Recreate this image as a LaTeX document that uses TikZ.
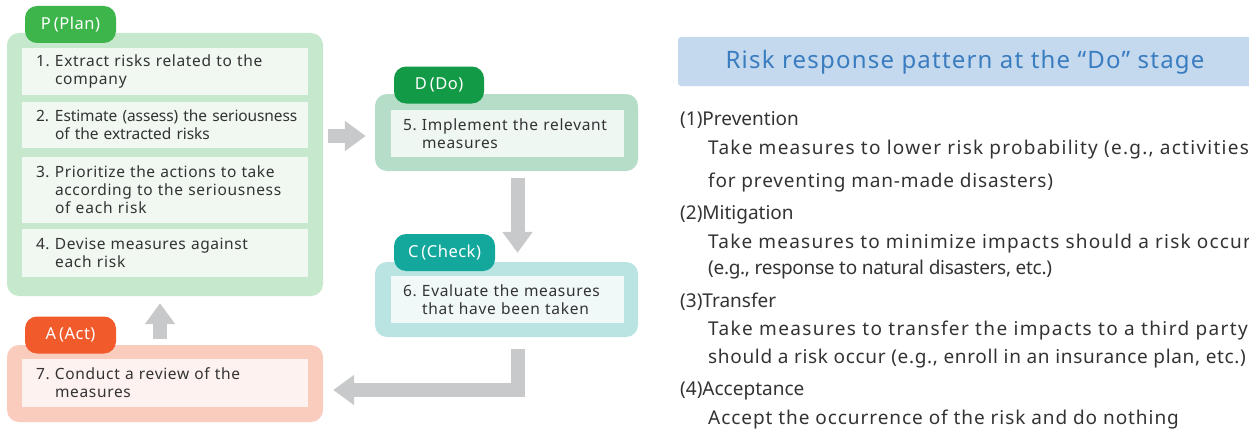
\documentclass[tikz,border=0pt]{standalone}
\usepackage{fontspec}
\setmainfont{Noto Sans}
\usetikzlibrary{arrows.meta,calc}

\definecolor{txt}{HTML}{333333}
\definecolor{arrowgray}{HTML}{C8C9CA}
\definecolor{planTab}{HTML}{3DB54A}
\definecolor{planOut}{HTML}{C6E8CC}
\definecolor{planIn}{HTML}{F0F8F1}
\definecolor{doTab}{HTML}{129A46}
\definecolor{doOut}{HTML}{B6DDC8}
\definecolor{doIn}{HTML}{EFF7F3}
\definecolor{chkTab}{HTML}{14A89D}
\definecolor{chkOut}{HTML}{B9E4E1}
\definecolor{chkIn}{HTML}{F0F8F8}
\definecolor{actTab}{HTML}{F15A2B}
\definecolor{actOut}{HTML}{F9CCBE}
\definecolor{actIn}{HTML}{FDF2F0}
\definecolor{titleFill}{HTML}{C5D9EE}
\definecolor{titleText}{HTML}{3A7CC0}

% letter-spaced run of text
\newcommand{\spaced}[2]{{\addfontfeatures{LetterSpace=#1}#2}}
% first line of a numbered step, and its indented continuation lines
\newcommand{\firstln}[3][4.3]{\mbox{\spaced{#1}{\makebox[19pt][l]{#2}#3}}}
\newcommand{\contln}[2][4.3]{\mbox{\hspace*{19pt}\spaced{#1}{#2}}}
% tab caption: letter, gap, bracketed word
\newcommand{\tabcap}[2]{\spaced{3}{#1\kern3pt(#2)}}

\begin{document}
\begin{tikzpicture}[x=1pt,y=-1pt,
  outerbox/.style={rounded corners=12pt, inner sep=0pt, minimum width=#1},
  tabbox/.style={rounded corners=12pt, inner sep=0pt, text=white,
    font=\fontsize{16.5}{18}\selectfont, minimum height=37pt},
  inbox/.style={inner sep=0pt, minimum width=#1, text=txt, align=left,
    font=\fontsize{15.5}{18}\selectfont},
  blk/.style={draw=arrowgray, line width=14pt, line join=miter,
    -{Triangle[width=29pt,length=21pt]}},
  headtext/.style={anchor=base west, inner sep=0pt, text=txt,
    font=\fontsize{19}{22}\selectfont},
  bodytext/.style={anchor=base west, inner sep=0pt, text=txt,
    font=\fontsize{19}{22}\selectfont}
]
\useasboundingbox (0,0) rectangle (1249,428);
\clip (0,0) rectangle (1249,428);
\fill[white] (0,0) rectangle (1249,428);

% ---------- P (Plan) ----------
\node[outerbox=316pt, fill=planOut, minimum height=263pt] (P) at (165,164.5) {};
\node[tabbox, fill=planTab, minimum width=91pt] (Ptab) at (70.5,24.5) {\tabcap{P}{Plan}};
\node[inbox=286pt, fill=planIn, minimum height=47pt, text width=258pt] (p1) at (165,71.5)
  {\firstln{1.}{Extract risks related to the}\\\contln[5]{company}};
\node[inbox=286pt, fill=planIn, minimum height=46pt, text width=258pt] (p2) at (165,125)
  {\firstln[-0.7]{2.}{Estimate (assess) the seriousness}\\\contln[-0.5]{of the extracted risks}};
\node[inbox=286pt, fill=planIn, minimum height=66pt, text width=258pt] (p3) at (165,190)
  {\firstln[3.5]{3.}{Prioritize the actions to take}\\\contln{according to the seriousness}\\\contln[5.5]{of each risk}};
\node[inbox=286pt, fill=planIn, minimum height=48pt, text width=258pt] (p4) at (165,253)
  {\firstln[3.6]{4.}{Devise measures against}\\\contln[5]{each risk}};

% ---------- D (Do) ----------
\node[outerbox=263pt, fill=doOut, minimum height=77pt] (D) at (506.5,132.5) {};
\node[tabbox, fill=doTab, minimum width=90pt] (Dtab) at (439,85) {\tabcap{D}{Do}};
\node[inbox=233pt, fill=doIn, minimum height=47pt, text width=209pt] (d1) at (507.5,133.5)
  {\firstln{5.}{Implement the relevant}\\\contln{measures}};

% ---------- C (Check) ----------
\node[outerbox=263pt, fill=chkOut, minimum height=75pt] (C) at (506.5,299.5) {};
\node[tabbox, fill=chkTab, minimum width=101pt] (Ctab) at (444.5,252.5) {\tabcap{C}{Check}};
\node[inbox=233pt, fill=chkIn, minimum height=47pt, text width=209pt] (c1) at (507.5,299.5)
  {\firstln{6.}{Evaluate the measures}\\\contln[4.8]{that have been taken}};

% ---------- A (Act) ----------
\node[outerbox=316pt, fill=actOut, minimum height=77pt] (A) at (165,383.5) {};
\node[tabbox, fill=actTab, minimum width=91pt] (Atab) at (70.5,335) {\tabcap{A}{Act}};
\node[inbox=286pt, fill=actIn, minimum height=48pt, text width=258pt] (a1) at (165,383)
  {\firstln{7.}{Conduct a review of the}\\\contln{measures}};

% ---------- cycle arrows ----------
\draw[blk] ($(P.east |- D.west)+(5,3.5)$) -- ($(D.west)+(-9,3.5)$);
\draw[blk] ($(D.south)+(11,7)$) -- ($(C.north)+(11,-9)$);
\draw[blk] ($(C.south)+(11.5,12)$) |- ($(A.east)+(10,6.5)$);
\draw[blk] ($(A.north)+(-5,-6)$) -- ($(P.south)+(-5,7)$);

% ---------- response patterns ----------
\fill[titleFill, rounded corners=3pt] (678,37) rectangle (1258,86);
\node[inner sep=0pt, text=titleText, font=\fontsize{24}{28}\selectfont] (title) at (965,62)
  {\spaced{5}{Risk response pattern at the “Do” stage}};

\node[headtext] (h1) at (680,125) {(1)Prevention};
\node[bodytext] (b1a) at (708,154) {\spaced{6.6}{Take measures to lower risk probability (e.g., activities}};
\node[bodytext] (b1b) at (708,187) {\spaced{4.3}{for preventing man-made disasters)}};
\node[headtext] (h2) at (680,219) {(2)Mitigation};
\node[bodytext] (b2a) at (708,248) {\spaced{6.3}{Take measures to minimize impacts should a risk occur}};
\node[bodytext] (b2b) at (708,274) {\spaced{-1.6}{(e.g., response to natural disasters, etc.)}};
\node[headtext] (h3) at (680,307) {(3)Transfer};
\node[bodytext] (b3a) at (708,335) {\spaced{7.2}{Take measures to transfer the impacts to a third party}};
\node[bodytext] (b3b) at (708,363) {\spaced{3.5}{should a risk occur (e.g., enroll in an insurance plan, etc.)}};
\node[headtext] (h4) at (680,395) {(4)Acceptance};
\node[bodytext] (b4a) at (708,424) {\spaced{4.9}{Accept the occurrence of the risk and do nothing}};
\end{tikzpicture}
\end{document}
